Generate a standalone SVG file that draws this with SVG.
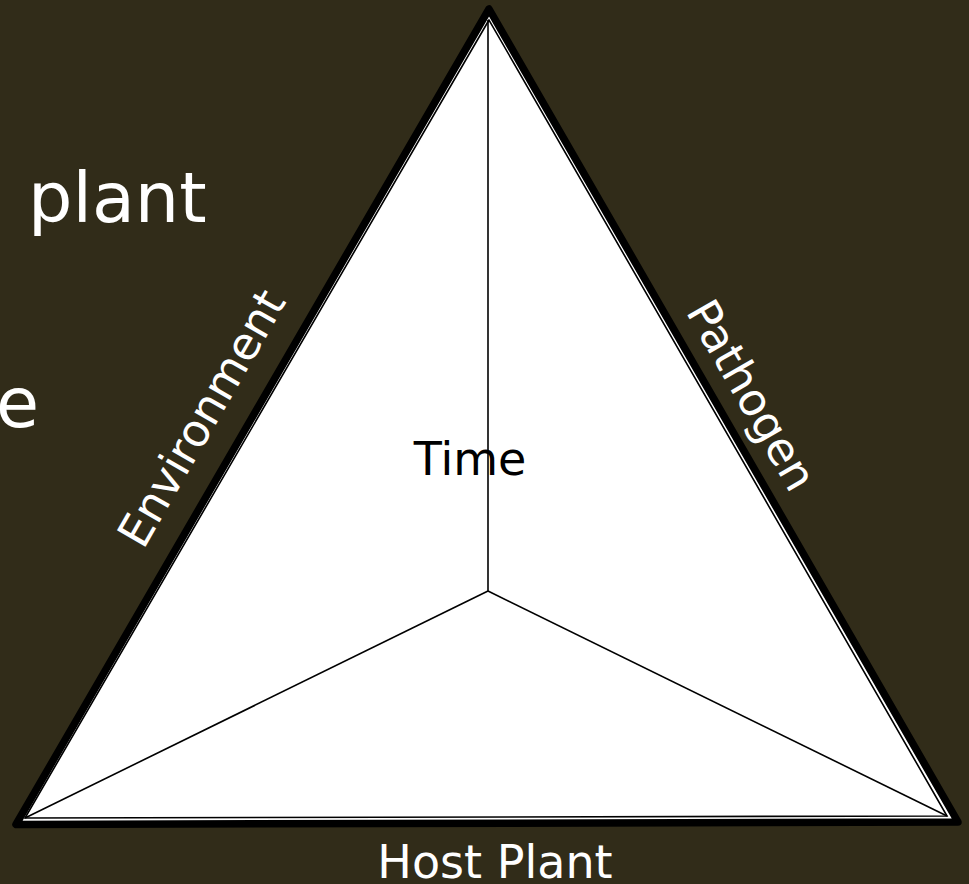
<svg xmlns="http://www.w3.org/2000/svg" width="969" height="884" viewBox="0 0 969 884">
<style>
.bg{fill:#312c19}
.lbl{font-family:"DejaVu Sans","Liberation Sans",sans-serif;fill:#fff}
.dark{font-family:"DejaVu Sans","Liberation Sans",sans-serif;fill:#000}
.thin{stroke:#000;stroke-width:1.6;fill:none}
</style>
<rect class="bg" x="0" y="0" width="969" height="884"/>
<text class="lbl" x="28" y="222" font-size="70">plant</text>
<text class="lbl" x="-4" y="427" font-size="70">e</text>
<g id="triangle">
<polygon points="489,9 16,824.5 958,822" fill="#fff" stroke="#000" stroke-width="7.5" stroke-linejoin="round"/>
<polygon points="489,20 25,818 947,816" class="thin"/>
</g>
<g id="connectors">
<line x1="488" y1="20" x2="488" y2="591" class="thin"/>
<line x1="488" y1="591" x2="25" y2="818" class="thin"/>
<line x1="488" y1="591" x2="947" y2="816" class="thin"/>
</g>
<g id="time"><text class="dark" x="470" y="475" font-size="46" text-anchor="middle">Time</text></g>
<g id="environment"><text class="lbl" font-size="45" text-anchor="middle" transform="translate(215,426) rotate(-60)">Environment</text></g>
<g id="pathogen"><text class="lbl" font-size="45" text-anchor="middle" transform="translate(738,403) rotate(60)">Pathogen</text></g>
<g id="host"><text class="lbl" x="495" y="878" font-size="46" text-anchor="middle">Host Plant</text></g>
</svg>
